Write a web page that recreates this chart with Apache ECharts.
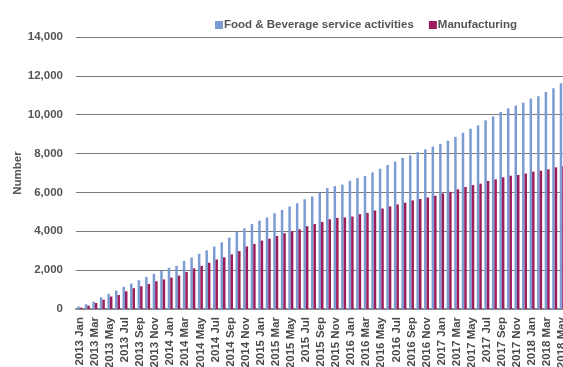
<!DOCTYPE html>
<html>
<head>
<meta charset="utf-8">
<script src="https://cdn.jsdelivr.net/npm/echarts@6/dist/echarts.min.js"></script>
<style>
  html, body { margin: 0; padding: 0; background: #ffffff; }
  #chart { width: 563px; height: 367px; }
</style>
</head>
<body>
<div id="chart"></div>
<script>
// Monthly cumulative counts, January 2013 to May 2018
const months = [
  '2013 Jan','2013 Feb','2013 Mar','2013 Apr','2013 May','2013 Jun','2013 Jul','2013 Aug','2013 Sep','2013 Oct','2013 Nov','2013 Dec',
  '2014 Jan','2014 Feb','2014 Mar','2014 Apr','2014 May','2014 Jun','2014 Jul','2014 Aug','2014 Sep','2014 Oct','2014 Nov','2014 Dec',
  '2015 Jan','2015 Feb','2015 Mar','2015 Apr','2015 May','2015 Jun','2015 Jul','2015 Aug','2015 Sep','2015 Oct','2015 Nov','2015 Dec',
  '2016 Jan','2016 Feb','2016 Mar','2016 Apr','2016 May','2016 Jun','2016 Jul','2016 Aug','2016 Sep','2016 Oct','2016 Nov','2016 Dec',
  '2017 Jan','2017 Feb','2017 Mar','2017 Apr','2017 May','2017 Jun','2017 Jul','2017 Aug','2017 Sep','2017 Oct','2017 Nov','2017 Dec',
  '2018 Jan','2018 Feb','2018 Mar','2018 Apr','2018 May'
];

const foodBeverage = [
  130, 240, 380, 600, 780, 950, 1140, 1310, 1480, 1650, 1810, 1960,
  2120, 2220, 2480, 2650, 2840, 3020, 3220, 3430, 3670, 3980, 4150, 4380,
  4550, 4710, 4930, 5100, 5280, 5450, 5650, 5790, 5970, 6220, 6330, 6400,
  6600, 6740, 6850, 7030, 7220, 7410, 7590, 7780, 7910, 8070, 8220, 8360,
  8500, 8660, 8860, 9070, 9280, 9450, 9710, 9910, 10140, 10330, 10470, 10620,
  10830, 10950, 11170, 11360, 11620
];

const manufacturing = [
  70, 170, 310, 480, 640, 720, 910, 1070, 1170, 1290, 1430, 1520,
  1620, 1720, 1900, 2090, 2220, 2380, 2550, 2660, 2810, 2980, 3220, 3350,
  3520, 3620, 3760, 3900, 4000, 4100, 4260, 4380, 4480, 4620, 4690, 4710,
  4760, 4880, 4950, 5070, 5170, 5280, 5380, 5470, 5590, 5660, 5740, 5830,
  5950, 6030, 6160, 6280, 6380, 6450, 6590, 6670, 6780, 6860, 6900, 6970,
  7070, 7120, 7190, 7290, 7350
];

const yTicks = { min: 0, max: 14000, interval: 2000 };

const FONT = "'Liberation Sans', Arial, Helvetica, sans-serif";
const TEXT = '#555555';
const SIZE = 11.5;

const chart = echarts.init(document.getElementById('chart'), null, { renderer: 'canvas' });

chart.setOption({
  animation: false,
  backgroundColor: '#ffffff',
  textStyle: { fontFamily: FONT },
  legend: {
    left: 210,
    top: 14,
    itemWidth: 8,
    itemHeight: 8,
    itemGap: 15,
    icon: 'rect',
    textStyle: {
      fontFamily: FONT, fontSize: SIZE, fontWeight: 'bold', color: TEXT,
      padding: [0, 0, 0, -4]
    },
    data: ['Food & Beverage service activities', 'Manufacturing']
  },
  grid: {
    left: 76,
    top: 37,
    bottom: 58,
    width: 490,
    containLabel: false,
    outerBoundsMode: 'none'
  },
  xAxis: {
    type: 'category',
    data: months,
    axisTick: { show: false },
    axisLine: { show: true, lineStyle: { color: '#8a8a8a', width: 2 } },
    axisLabel: {
      interval: 1,
      rotate: 90,
      margin: 8,
      fontFamily: FONT,
      fontSize: SIZE,
      fontWeight: 'bold',
      color: '#4a4a4a',
      hideOverlap: false
    }
  },
  yAxis: {
    type: 'value',
    min: yTicks.min,
    max: yTicks.max,
    interval: yTicks.interval,
    name: 'Number',
    nameLocation: 'middle',
    nameGap: 52,
    nameRotate: 90,
    nameMoveOverlap: false,
    nameTextStyle: { fontFamily: FONT, fontSize: SIZE, fontWeight: 'bold', color: TEXT },
    axisLine: { show: false },
    axisTick: { show: false },
    axisLabel: {
      margin: 13,
      fontFamily: FONT,
      fontSize: SIZE,
      fontWeight: 'bold',
      color: TEXT,
      formatter: v => v.toLocaleString('en-US')
    },
    splitLine: { lineStyle: { color: '#7a7a7a', width: 1.2 } }
  },
  series: [
    {
      name: 'Food & Beverage service activities',
      type: 'bar',
      data: foodBeverage,
      itemStyle: { color: '#7b9bd3' },
      barGap: '0%',
      barCategoryGap: '34%'
    },
    {
      name: 'Manufacturing',
      type: 'bar',
      data: manufacturing,
      itemStyle: { color: '#9c1d5b' }
    }
  ]
});
</script>
</body>
</html>
